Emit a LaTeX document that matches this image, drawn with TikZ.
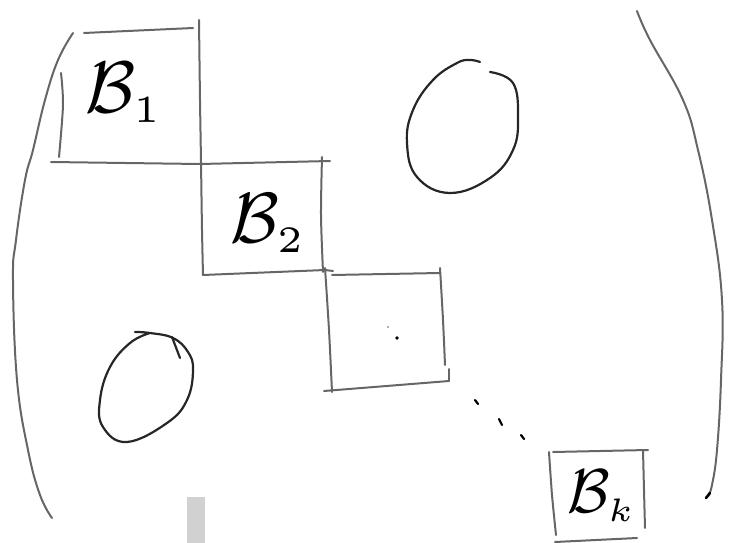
\documentclass[tikz,border=0pt]{standalone}
\tikzset{
  ink/.style={line width=2pt, draw=black!60, line cap=round, line join=round},
  oval/.style={line width=2.2pt, draw=black!85, line cap=round, line join=round},
  label/.style={inner sep=0pt, anchor=base west, text=black},
  speck/.style={line width=2.2pt, draw=black, line cap=round}
}
\newcommand{\subsz}[1]{\scalebox{1.05}{$\scriptscriptstyle #1$}}
\begin{document}
\begin{tikzpicture}[x=1pt,y=-1pt]
\useasboundingbox (0,0) rectangle (731,543);

% left bracket
\draw[ink] plot[smooth, tension=0.7] coordinates
  {(73,33) (58,60) (45,100) (33,150) (25,180) (16,240) (13,280) (17,380) (28,450) (40,495) (52,518)};
% right bracket
\draw[ink] plot[smooth, tension=0.7] coordinates
  {(637,11) (650,40) (683,100) (698,150) (712,220) (722,300) (721,380) (717,450) (712,485) (708,496)};
\draw[ink, line width=2.6pt, draw=black] (710,493) -- (706,498);

% block B1
\draw[ink] (84,33) -- (193,28);
\draw[ink] plot[smooth] coordinates {(61,73) (63,105) (59,157)};
\draw[ink] plot[smooth] coordinates {(199,20) (200,100) (201,162) (202,230) (203,275)};
\draw[ink] (51,162) -- (200,164) -- (330,161);

% block B2
\draw[ink] plot[smooth] coordinates {(322,157) (321,215) (323,272)};
\draw[ink] (203,275) -- (325,270) -- (333,271);

% middle block
\draw[ink] (332,275) -- (440,273);
\draw[ink] plot[smooth] coordinates {(325,268) (329,330) (332,392)};
\draw[ink] (324,391) -- (449,381);
\draw[ink] plot[smooth] coordinates {(440,268) (443,320) (445,365)};
\draw[ink] (449,369) -- (449,381);
\fill[black] (397,338) circle (1.9pt);
\fill[black!60] (388,327) circle (0.8pt);

% diagonal dots
\draw[speck] (475,400) -- (478,404);
\draw[speck] (499,419) -- (502,425);
\draw[speck] (521,435) -- (524,439);

% block Bk
\draw[ink] plot[smooth] coordinates {(549,452) (552,495) (556,535)};
\draw[ink] (553,452) -- (648,450);
\draw[ink] plot[smooth] coordinates {(643,450) (644,490) (645,528)};
\draw[ink] (555,542) -- (637,538);

% zero blocks
\draw[oval] plot[smooth, tension=0.7] coordinates
  {(480,62) (470,60) (457,63) (433,80) (413,110) (407,143) (417,177) (450,193) (490,178) (513,150) (518,117) (513,83) (490,72)};
\draw[oval] plot[smooth, tension=0.7] coordinates
  {(135,332) (150,333) (173,338) (188,352) (193,370) (187,400) (167,423) (127,442) (103,427) (100,400) (110,367) (130,343) (150,333)};
\draw[oval] (172,337) -- (180,358);

% scanner smudge
\fill[black!18] (187,497) rectangle (205,543);

% labels
\node[label, scale=7.3] (lb1) at (84,112) {$\mathcal{B}_{\subsz{1}}$};
\node[label, scale=7.1] (lb2) at (229,242) {$\mathcal{B}_{\subsz{2}}$};
\node[label, scale=6.2] (lbk) at (566,512) {$\mathcal{B}_{\subsz{k}}$};
\end{tikzpicture}
\end{document}
